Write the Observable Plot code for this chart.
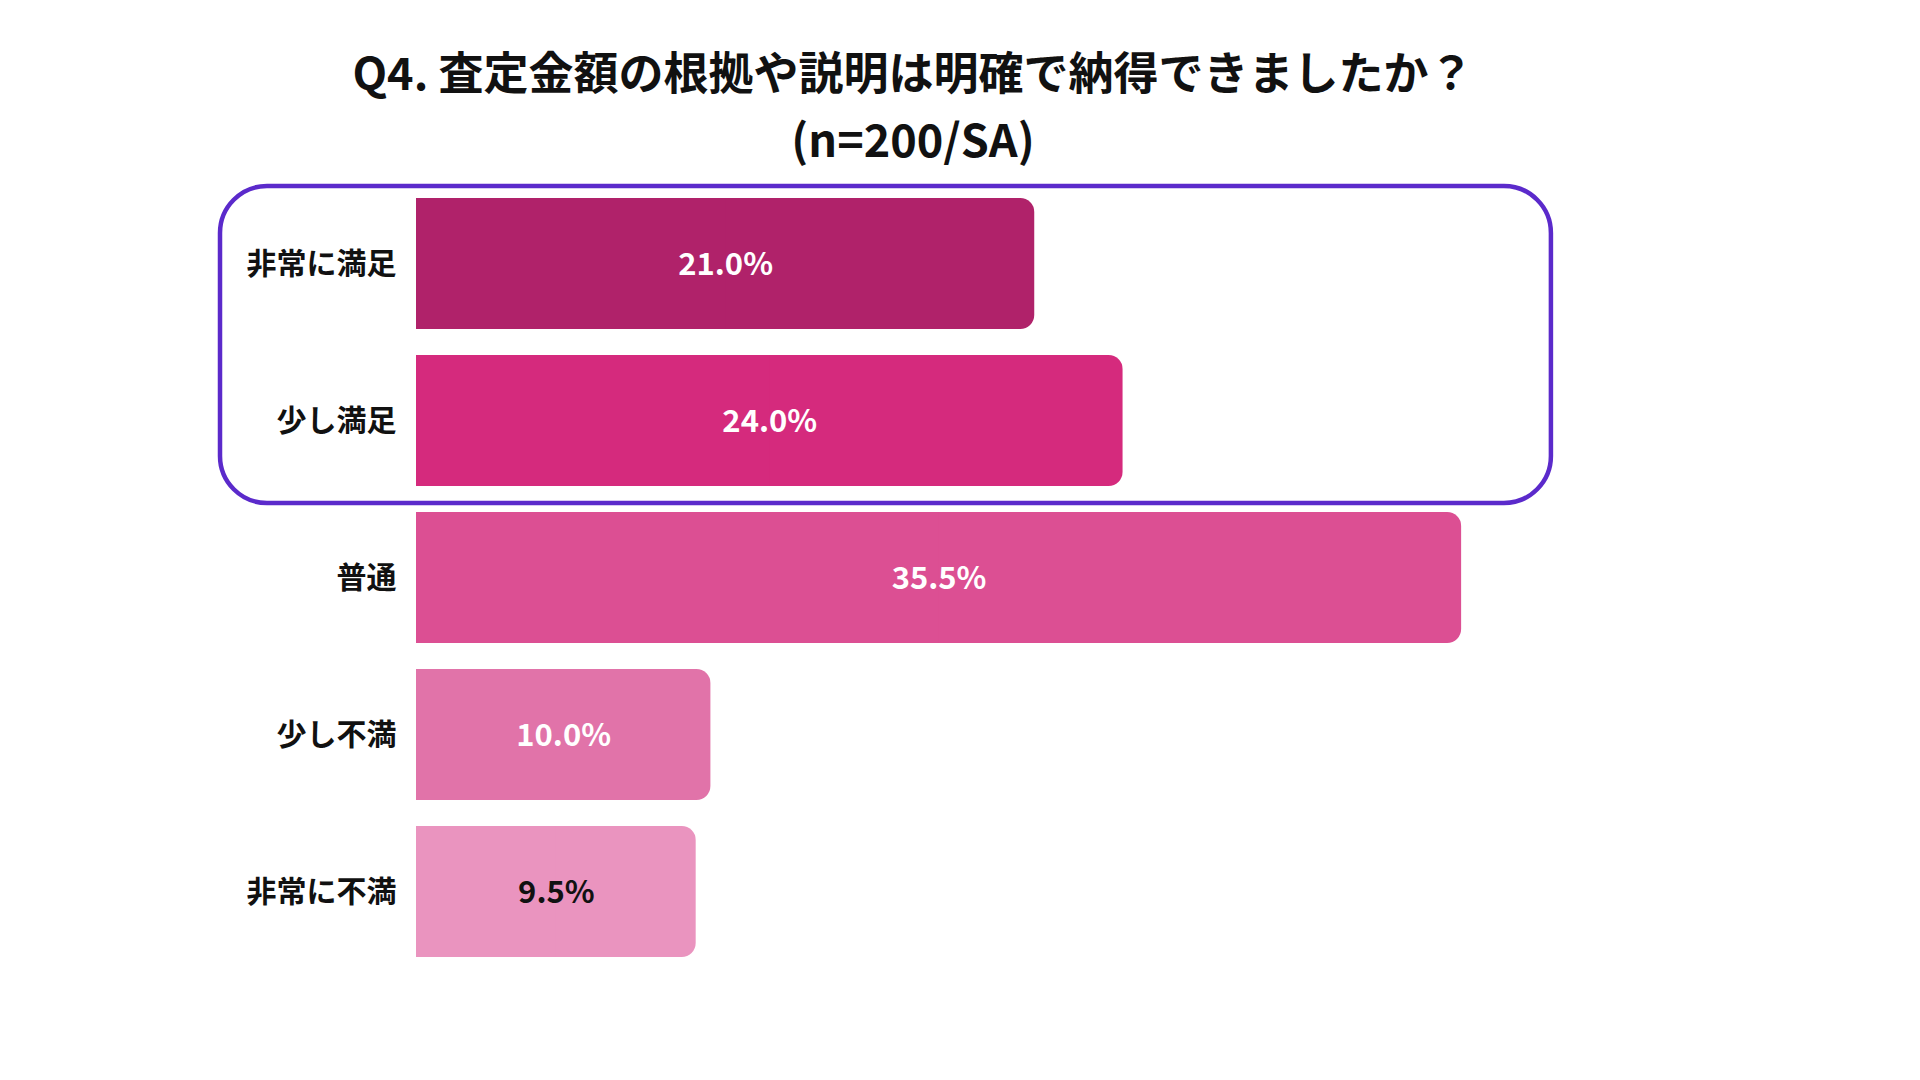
<!DOCTYPE html>
<html>
<head>
<meta charset="utf-8">
<script src="https://cdn.jsdelivr.net/npm/d3@7"></script>
<script src="https://cdn.jsdelivr.net/npm/@observablehq/plot@0.6"></script>
<style>
  html, body { margin: 0; padding: 0; background: #fff; }
  body { width: 1920px; height: 1080px; overflow: hidden; font-family: "Noto Sans CJK JP", "Noto Sans", sans-serif; }
  #title { width: 1826px; height: 175px; box-sizing: border-box; padding-top: 37px; text-align: center;
           font-size: 45px; font-weight: 700; line-height: 67px; color: #111; }
  #chart svg { display: block; }
</style>
</head>
<body>
<div id="title">Q4. 査定金額の根拠や説明は明確で納得できましたか？<br>(n=200/SA)</div>
<div id="chart"></div>
<script>
const categories = ["非常に満足", "少し満足", "普通", "少し不満", "非常に不満"];
const values = [21.0, 24.0, 35.5, 10.0, 9.5];
const colors = ["#B0226A", "#D52A7D", "#DC4F93", "#E173A9", "#EA94BF"];
const labelColors = ["#ffffff", "#ffffff", "#ffffff", "#ffffff", "#111111"];
const highlighted = ["非常に満足", "少し満足"];

const data = categories.map((c, i) => ({category: c, value: values[i], color: colors[i], labelColor: labelColors[i]}));

function highlightBox(index, scales) {
  const y = scales.y;
  const bw = y.bandwidth ? y.bandwidth() : 131;
  const x0 = scales.x(0);
  const xr = scales.x(38.55);
  const top = y(highlighted[0]) - 12;
  const bottom = y(highlighted[highlighted.length - 1]) + bw + 17;
  const left = x0 - 196;
  return d3.create("svg:rect")
    .attr("x", left).attr("y", top)
    .attr("width", xr - left).attr("height", bottom - top)
    .attr("rx", 47).attr("ry", 47)
    .attr("fill", "none")
    .attr("stroke", "#5B2ACB")
    .attr("stroke-width", 4.5)
    .node();
}

const chart = Plot.plot({
  width: 1920,
  height: 905,
  marginLeft: 416,
  marginRight: 326.4,
  marginTop: 22,
  marginBottom: 122,
  style: {fontFamily: "'Noto Sans CJK JP', 'Noto Sans', sans-serif", background: "#fff"},
  x: {domain: [0, 40], axis: null},
  y: {domain: categories, paddingInner: 0.168, paddingOuter: 0, label: null},
  marks: [
    Plot.barX(data, {y: "category", x: "value", fill: d => d.color, rx: 14, ry: 14}),
    Plot.barX(data, {y: "category", x1: 0, x2: d => d.value / 2, fill: d => d.color}),
    Plot.text(data, {y: "category", x: d => d.value / 2, text: d => d.value.toFixed(1) + "%",
      fill: d => d.labelColor, fontSize: 31, fontWeight: 700, textAnchor: "middle", dy: 1}),
    Plot.axisY({tickSize: 0, tickPadding: 20, fontSize: 30, fontWeight: 700, color: "#111", label: null}),
    highlightBox
  ]
});
document.getElementById("chart").appendChild(chart);
</script>
</body>
</html>
